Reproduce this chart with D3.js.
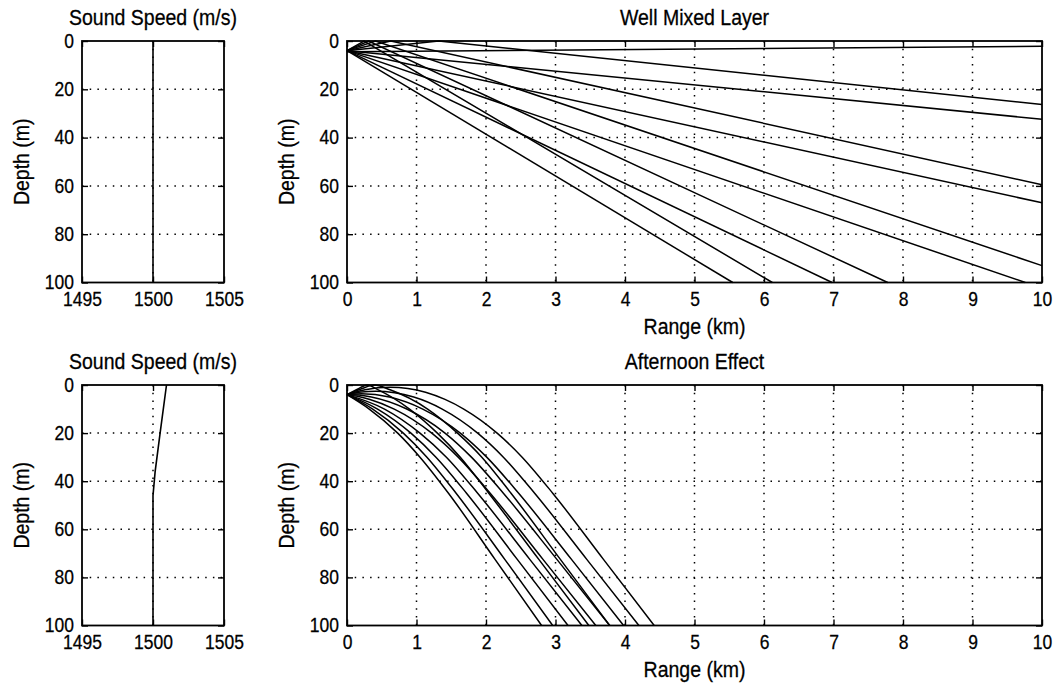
<!DOCTYPE html>
<html><head><meta charset="utf-8">
<script src="https://cdn.jsdelivr.net/npm/d3@7"></script>
<style>
body{margin:0;background:#fff}
text{font-family:"Liberation Sans",Arial,Helvetica,sans-serif;fill:#000;stroke:#000;stroke-width:0.25px}
</style></head><body>
<svg id="c" width="1056" height="685"></svg>
<script>
// ---------------- data ----------------
const speedTicks = [1495, 1500, 1505];
const depthTicks = [0, 20, 40, 60, 80, 100];
const rangeTicks = [0, 1, 2, 3, 4, 5, 6, 7, 8, 9, 10];

const profileDepth   = [0, 20, 36, 46, 100];
const wellMixedSpeed = [1500, 1500, 1500, 1500, 1500];
const afternoonSpeed = [1500.95, 1500.5, 1500.15, 1500, 1500];

// rays: [range km, depth m]
const wellMixedRays = [
  [[0,4.4],[10,2.2]],
  [[0,4],[10,32.4]],
  [[0,4],[1.32,0],[10,26.3]],
  [[0,4],[10,67]],
  [[0,4],[0.63,0],[10,59.5]],
  [[0,4],[9.76,100]],
  [[0,4],[0.41,0],[10,93]],
  [[0,4],[6.98,100]],
  [[0,4],[0.31,0],[7.78,100]],
  [[0,4],[5.55,100]],
  [[0,4],[0.245,0],[6.12,100]]
];

const afternoonRays = [
  [[0,4],[0.32,10],[0.73,20],[1.05,30],[1.46,45],[2.13,72.5],[2.80,100]],
  [[0,4],[0.37,10],[0.81,20],[1.15,30],[1.57,45],[2.27,72.5],[2.96,100]],
  [[0,4],[0.44,10],[0.92,20],[1.28,30],[1.72,45],[2.45,72.5],[3.18,100]],
  [[0,4],[0.54,10],[1.05,20],[1.43,30],[1.88,45],[2.63,72.5],[3.38,100]],
  [[0,4],[0.15,1.75],[0.29,0],[0.45,2],[0.90,10],[1.30,20],[1.63,30],[2.04,45],[2.76,72.5],[3.48,100]],
  [[0,4],[0.15,4.7],[0.33,6],[0.68,10],[1.22,20],[1.60,30],[2.06,45],[2.82,72.5],[3.58,100]],
  [[0,4],[0.2,4.3],[0.35,5],[0.86,10],[1.41,20],[1.79,30],[2.25,45],[3.02,72.5],[3.78,100]],
  [[0,4],[0.21,1.56],[0.39,0],[0.62,2],[1.16,10],[1.59,20],[1.94,30],[2.36,45],[3.07,72.5],[3.78,100]],
  [[0,4],[0.21,3.66],[0.61,5],[1.09,10],[1.63,20],[2.01,30],[2.47,45],[3.23,72.5],[3.98,100]],
  [[0,4],[0.21,2.96],[0.41,2.62],[0.96,5],[1.37,10],[1.88,20],[2.25,30],[2.70,45],[3.45,72.5],[4.20,100]],
  [[0,4],[0.26,1.93],[0.62,0.9],[1.13,3],[1.41,6],[1.68,10],[2.16,20],[2.52,30],[2.96,45],[3.69,72.5],[4.42,100]]
];

const speedTitle = "Sound Speed (m/s)";
const depthLabel = "Depth (m)";
const rangeLabel = "Range (km)";
const topTitle = "Well Mixed Layer";
const bottomTitle = "Afternoon Effect";

// ---------------- drawing ----------------
const svg = d3.select("#c");
svg.append("rect").attr("width",1056).attr("height",685).attr("fill","#fff");

const SY = 1.17, TSY = 1.12;
const TICK_FS = "17.5px", LAB_FS = "19.5px";

function label(g, x, y, s, size, rotate){
  g.append("text")
    .attr("transform", `translate(${x},${y})` + (rotate ? " rotate(-90)" : "") + ` scale(1,${SY})`)
    .attr("text-anchor","middle")
    .attr("dominant-baseline","central")
    .style("font-size", size)
    .text(s);
}

function panel(box, xDomain, xTicks, title, withRangeLabel, draw){
  const g = svg.append("g");
  const x = d3.scaleLinear().domain(xDomain).range([box.x0, box.x1]);
  const y = d3.scaleLinear().domain([0,100]).range([box.y0, box.y1]);

  // grid
  const grid = g.append("g").attr("stroke","#000").attr("stroke-width",1.5)
    .attr("stroke-dasharray","1.5,6.2").attr("fill","none");
  xTicks.slice(1,-1).forEach(t => grid.append("line")
    .attr("x1",x(t)).attr("x2",x(t)).attr("y1",box.y0).attr("y2",box.y1));
  depthTicks.slice(1,-1).forEach(t => grid.append("line")
    .attr("y1",y(t)).attr("y2",y(t)).attr("x1",box.x0).attr("x2",box.x1));

  draw(g, x, y);

  // axes
  const fmt = d3.format("d");
  const bottom = g.append("g").attr("transform",`translate(0,${box.y1})`)
    .call(d3.axisBottom(x).tickValues(xTicks).tickFormat(fmt).tickSizeInner(-6).tickSizeOuter(0));
  const top = g.append("g").attr("transform",`translate(0,${box.y0})`)
    .call(d3.axisTop(x).tickValues(xTicks).tickFormat("").tickSizeInner(-6).tickSizeOuter(0));
  const left = g.append("g").attr("transform",`translate(${box.x0},0)`)
    .call(d3.axisLeft(y).tickValues(depthTicks).tickFormat(fmt).tickSizeInner(-6).tickSizeOuter(0));
  const right = g.append("g").attr("transform",`translate(${box.x1},0)`)
    .call(d3.axisRight(y).tickValues(depthTicks).tickFormat("").tickSizeInner(-6).tickSizeOuter(0));
  [bottom, top, left, right].forEach(a => {
    a.select(".domain").remove();
    a.attr("font-family", null).attr("font-size", null);
    a.selectAll("line").attr("stroke","#000").attr("stroke-width",1.4);
  });
  bottom.selectAll("text").attr("y",0).attr("dy",null)
    .attr("dominant-baseline","central")
    .attr("transform",`translate(0,17) scale(1,${TSY})`)
    .style("font-size",TICK_FS);
  left.selectAll("text").attr("x",0).attr("dy",null)
    .attr("dominant-baseline","central").attr("text-anchor","end")
    .attr("transform",`translate(-8,-0.5) scale(1,${TSY})`)
    .style("font-size",TICK_FS);

  g.append("rect").attr("x",box.x0).attr("y",box.y0)
    .attr("width",box.x1-box.x0).attr("height",box.y1-box.y0)
    .attr("fill","none").attr("stroke","#000").attr("stroke-width",1.8);

  label(g, (box.x0+box.x1)/2, box.y0-24, title, LAB_FS);
  label(g, box.x0-61, (box.y0+box.y1)/2, depthLabel, LAB_FS, true);
  if (withRangeLabel) label(g, (box.x0+box.x1)/2, box.y1+43, rangeLabel, LAB_FS);
}

function profileDraw(speeds){
  return (g, x, y) => {
    const line = d3.line().x(d => x(d[0])).y(d => y(d[1]));
    g.append("path").datum(speeds.map((s,i) => [s, profileDepth[i]]))
      .attr("d", line).attr("fill","none").attr("stroke","#000").attr("stroke-width",1.6);
  };
}
function raysDraw(rays, curve){
  return (g, x, y) => {
    const line = d3.line().x(d => x(d[0])).y(d => y(d[1])).curve(curve);
    g.append("g").selectAll("path").data(rays).join("path")
      .attr("d", line).attr("fill","none").attr("stroke","#000").attr("stroke-width",1.5);
  };
}

const L = {x0:82, x1:224}, R = {x0:347, x1:1042};
const T = {y0:41, y1:282.5}, B = {y0:385, y1:625.5};

panel({...L, ...T}, [1495,1505], speedTicks, speedTitle, false, profileDraw(wellMixedSpeed));
panel({...R, ...T}, [0,10], rangeTicks, topTitle, true, raysDraw(wellMixedRays, d3.curveLinear));
panel({...L, ...B}, [1495,1505], speedTicks, speedTitle, false, profileDraw(afternoonSpeed));
panel({...R, ...B}, [0,10], rangeTicks, bottomTitle, true, raysDraw(afternoonRays, d3.curveMonotoneX));
</script>
</body></html>
